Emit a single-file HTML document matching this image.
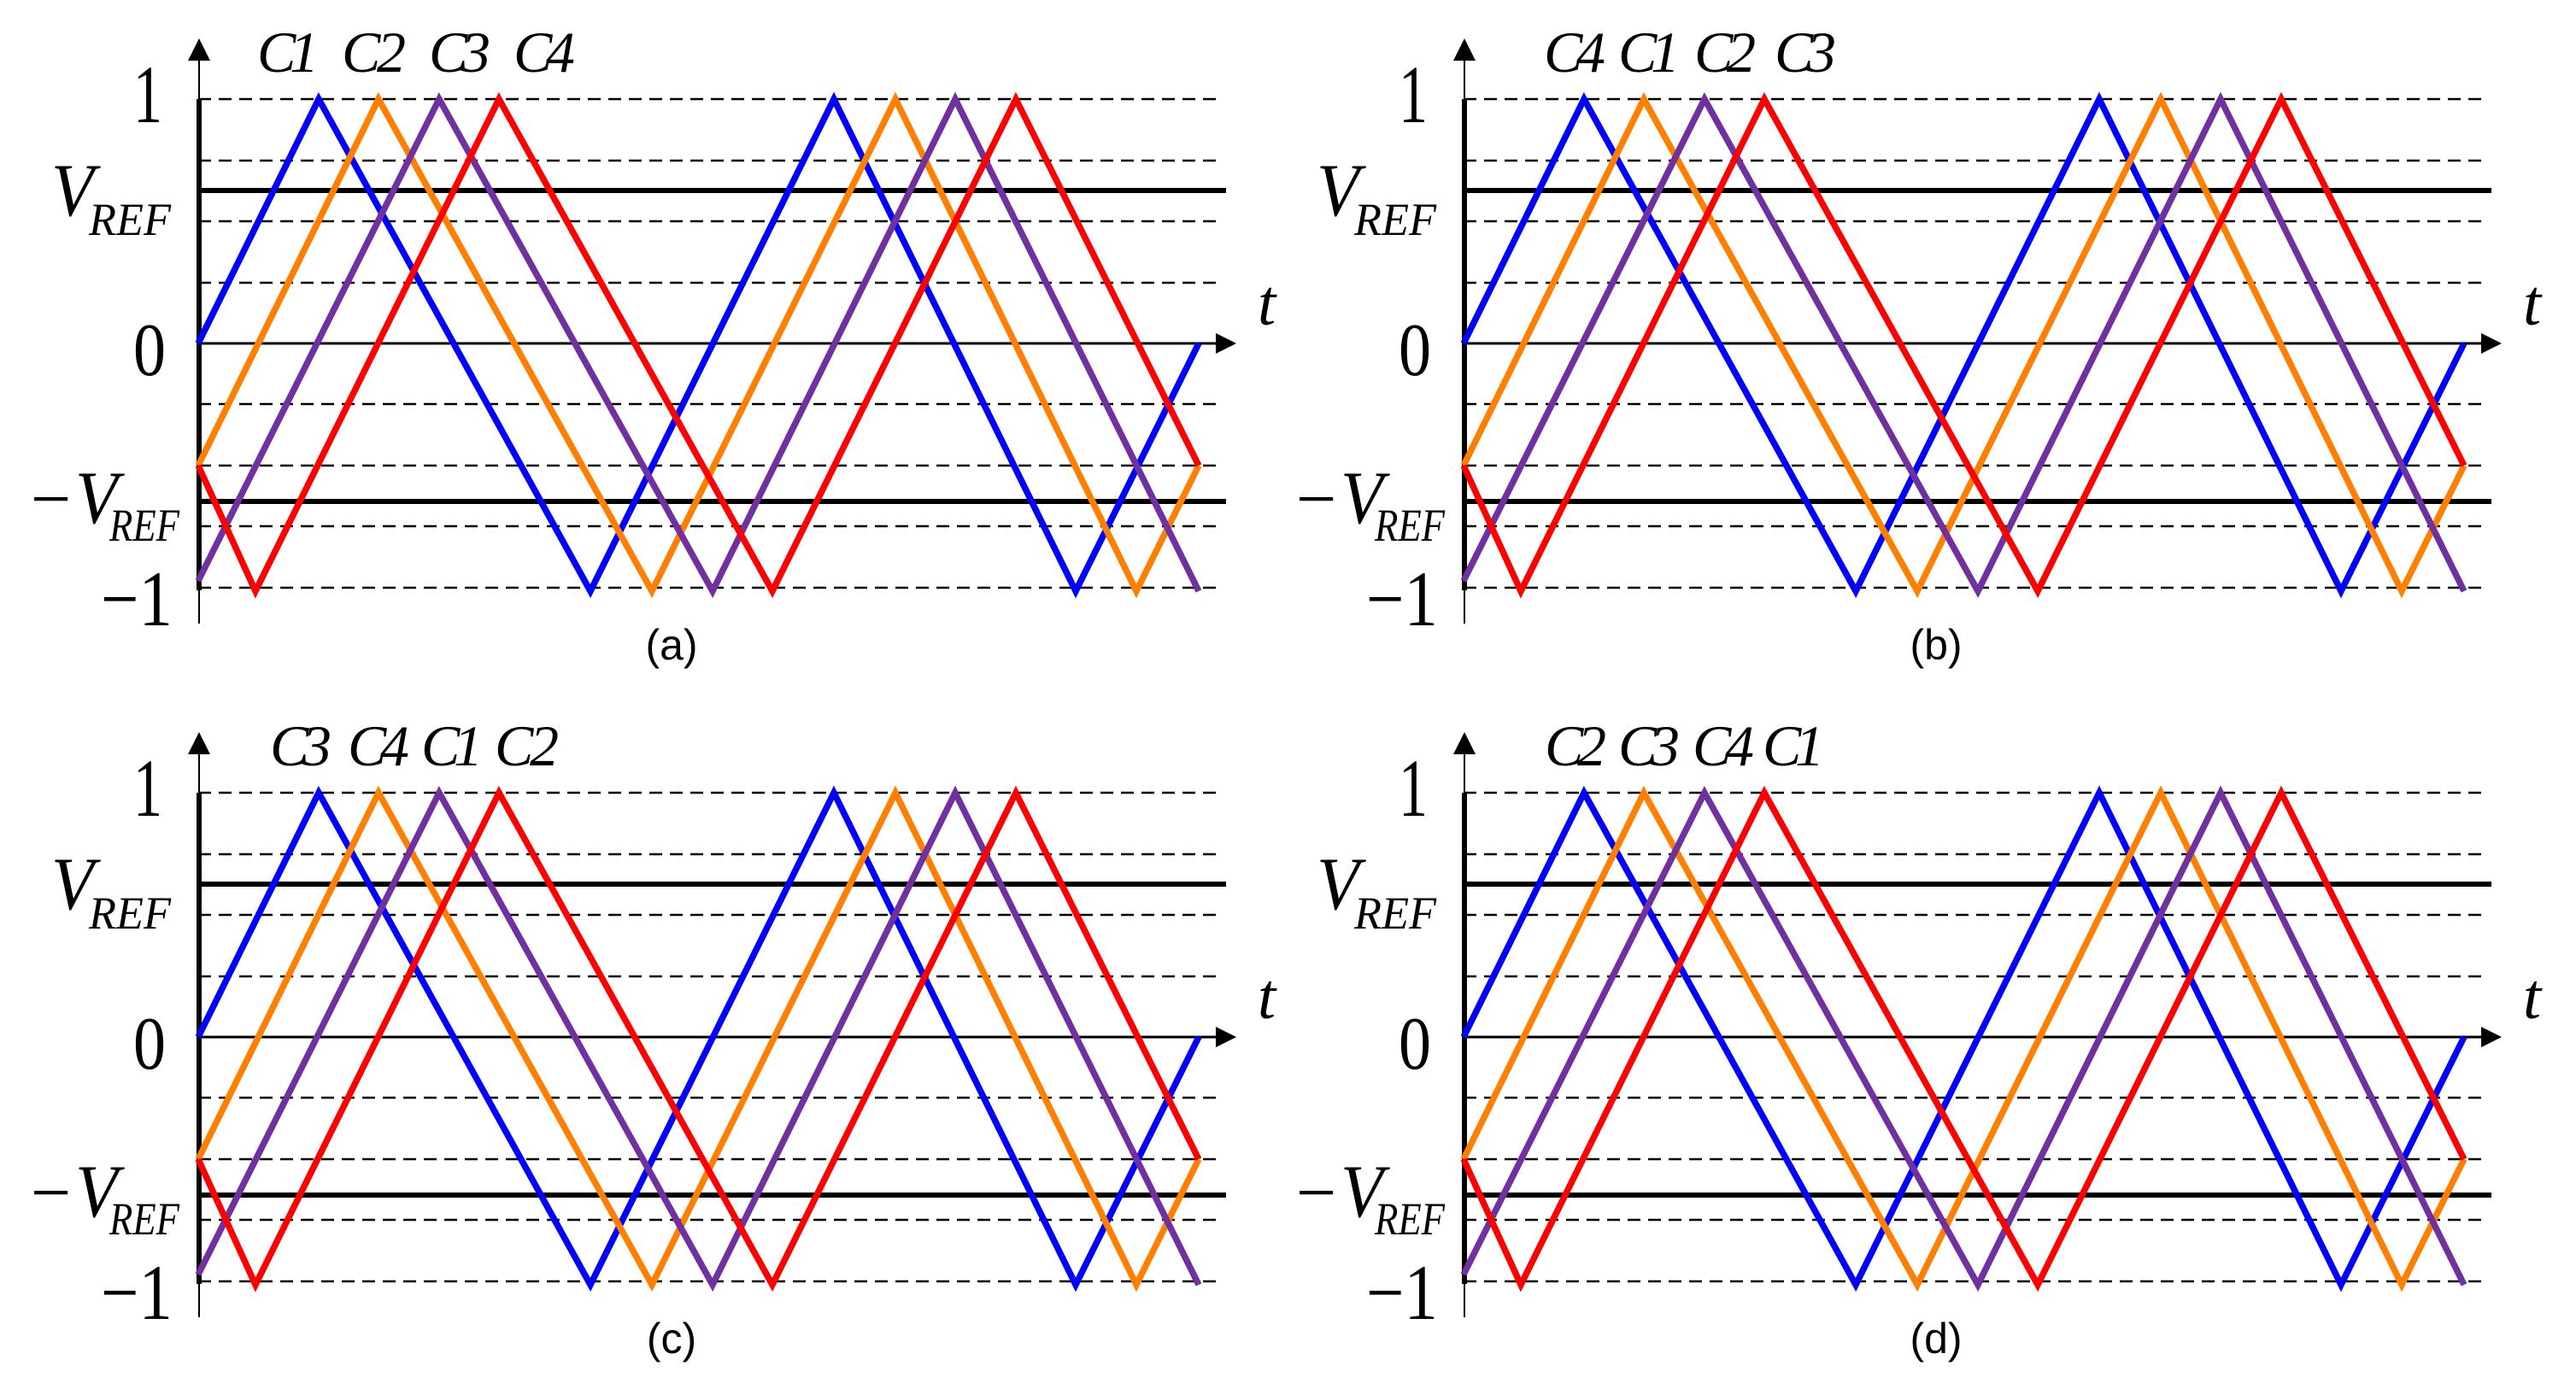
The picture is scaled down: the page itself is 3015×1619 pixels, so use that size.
<!DOCTYPE html>
<html><head><meta charset="utf-8"><style>html,body{margin:0;padding:0;background:#fff}svg{display:block}</style></head>
<body>
<svg width="3015" height="1619" viewBox="0 0 3015 1619" xmlns="http://www.w3.org/2000/svg">
<defs>
<g id="p">
  <g stroke="#000" stroke-width="2.5" stroke-dasharray="15,9" fill="none">
    <line x1="232" y1="116" x2="1431" y2="116"/>
    <line x1="232" y1="188" x2="1431" y2="188"/>
    <line x1="232" y1="259" x2="1431" y2="259"/>
    <line x1="232" y1="331" x2="1431" y2="331"/>
    <line x1="232" y1="473" x2="1431" y2="473"/>
    <line x1="232" y1="545" x2="1431" y2="545"/>
    <line x1="232" y1="616" x2="1431" y2="616"/>
    <line x1="232" y1="688" x2="1431" y2="688"/>
  </g>
  <line x1="232" y1="223" x2="1435" y2="223" stroke="#000" stroke-width="6"/>
  <line x1="232" y1="587" x2="1435" y2="587" stroke="#000" stroke-width="6"/>
  <line x1="232" y1="402" x2="1425" y2="402" stroke="#000" stroke-width="3"/>
  <polygon points="1423,390 1447,402 1423,414" fill="#000"/>
  <line x1="233" y1="60" x2="233" y2="730" stroke="#000" stroke-width="2"/>
  <line x1="233" y1="116" x2="233" y2="691" stroke="#000" stroke-width="6"/>
  <polygon points="220,71 233,45 246,71" fill="#000"/>
  <g fill="none" stroke-width="7.5" stroke-linejoin="miter">
    <polyline stroke="#0000ff" points="232,402 373,116 691,692 976,116 1259,692 1403,402"/>
    <polyline stroke="#ff7f00" points="232,545 443,116 763,692 1048,116 1330,692 1403,545"/>
    <polyline stroke="#7030a0" points="232,680 514,116 834,692 1118,116 1403,692"/>
    <polyline stroke="#ff0000" points="232,545 299,692 584,116 904,692 1189,116 1403,545"/>
  </g>
  <g font-family="Liberation Serif, serif" fill="#000">
    <text x="156" y="143" font-size="96" textLength="34" lengthAdjust="spacingAndGlyphs">1</text>
    <text x="156" y="439" font-size="88" textLength="38" lengthAdjust="spacingAndGlyphs">0</text>
    <text x="60" y="252" font-size="88" font-style="italic" textLength="50" lengthAdjust="spacingAndGlyphs">V</text>
    <text x="104" y="275" font-size="54" font-style="italic" textLength="96" lengthAdjust="spacingAndGlyphs">REF</text>
    <text x="36" y="612" font-size="84">−</text>
    <text x="88" y="612" font-size="88" font-style="italic" textLength="50" lengthAdjust="spacingAndGlyphs">V</text>
    <text x="128" y="633" font-size="54" font-style="italic" textLength="82" lengthAdjust="spacingAndGlyphs">REF</text>
    <text x="118" y="732" font-size="92" textLength="84" lengthAdjust="spacingAndGlyphs">−1</text>
    <text x="1472" y="380" font-size="76" font-style="italic">t</text>
  </g>
</g>
</defs>
<use href="#p"/>
<use href="#p" transform="translate(1481,0)"/>
<use href="#p" transform="translate(0,812)"/>
<use href="#p" transform="translate(1481,812)"/>
<g font-family="Liberation Serif, serif" font-style="italic" font-size="68" fill="#000" lengthAdjust="spacingAndGlyphs">
  <text x="301" y="84" textLength="72">C1</text><text x="400" y="84" textLength="75">C2</text><text x="502" y="84" textLength="72">C3</text><text x="601" y="84" textLength="72">C4</text>
  <text x="1807" y="84" textLength="72">C4</text><text x="1894" y="84" textLength="72">C1</text><text x="1983" y="84" textLength="72">C2</text><text x="2077" y="84" textLength="72">C3</text>
  <text x="316" y="896" textLength="72">C3</text><text x="407" y="896" textLength="72">C4</text><text x="493" y="896" textLength="72">C1</text><text x="579" y="896" textLength="75">C2</text>
  <text x="1808" y="896" textLength="72">C2</text><text x="1894" y="896" textLength="72">C3</text><text x="1981" y="896" textLength="72">C4</text><text x="2063" y="896" textLength="72">C1</text>
</g>
<g font-family="Liberation Sans, sans-serif" font-size="50" fill="#000" text-anchor="middle">
  <text x="786" y="772">(a)</text>
  <text x="2266" y="772">(b)</text>
  <text x="786" y="1584">(c)</text>
  <text x="2266" y="1584">(d)</text>
</g>
</svg>
</body></html>
